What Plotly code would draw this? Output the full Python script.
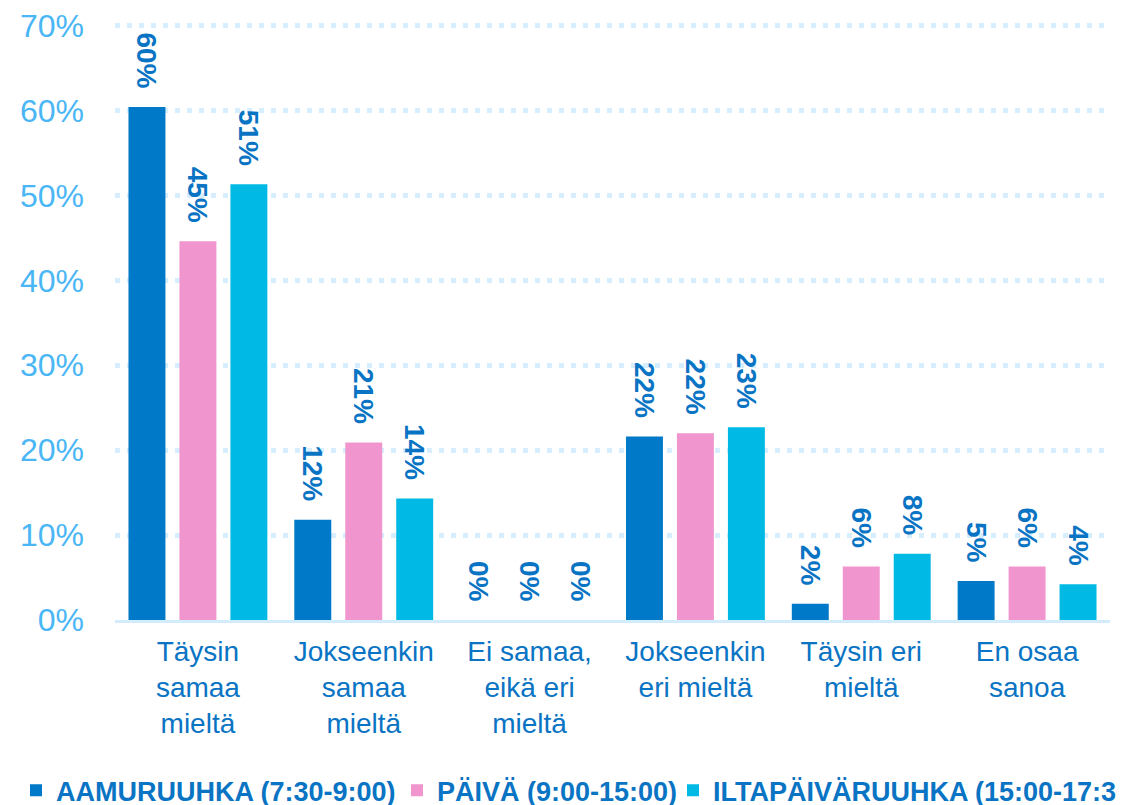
import plotly.graph_objects as go

categories = ["Täysin<br>samaa<br>mieltä", "Jokseenkin<br>samaa<br>mieltä", "Ei samaa,<br>eikä eri<br>mieltä",
              "Jokseenkin<br>eri mieltä", "Täysin eri<br>mieltä", "En osaa<br>sanoa"]
series_names = ["AAMURUUHKA (7:30-9:00)", "PÄIVÄ (9:00-15:00)", "ILTAPÄIVÄRUUHKA (15:00-17:30)"]
aamu = [60.4, 11.8, 0, 21.6, 1.9, 4.6]
paiva = [44.6, 20.9, 0, 22.0, 6.3, 6.3]
ilta = [51.3, 14.3, 0, 22.7, 7.8, 4.2]
colors = ["#0079C8", "#F095CD", "#00B9E4"]
tick_vals = [0, 10, 20, 30, 40, 50, 60, 70]
tick_text = ["0%", "10%", "20%", "30%", "40%", "50%", "60%", "70%"]

FONT = "Arial, Liberation Sans, sans-serif"
label_color = "#0A74C4"
legend_widths = [336, 231, 400]

fig = go.Figure()
for name, vals, col, lw in zip(series_names, [aamu, paiva, ilta], colors, legend_widths):
    fig.add_trace(go.Bar(
        x=categories, y=vals, name=name,
        marker=dict(color=col, line=dict(width=0)),
        texttemplate="%{y:.0f}%\u00a0\u00a0",
        textposition="outside", textangle=90,
        constraintext="none",
        textfont=dict(family=FONT, size=28, color=label_color, weight="bold"),
        cliponaxis=False,
        legendwidth=lw,
    ))

fig.update_layout(
    width=1125, height=805,
    margin=dict(l=107, r=23, t=14.5, b=193, autoexpand=False),
    paper_bgcolor="white", plot_bgcolor="white",
    barmode="group", bargap=0.078, bargroupgap=0.275,
    font=dict(family=FONT),
    showlegend=True,
    legend=dict(orientation="h", x=-0.0995, xanchor="left",
                y=-0.286, yanchor="middle", bgcolor="rgba(0,0,0,0)",
                font=dict(family=FONT, size=27, color=label_color, weight="bold"),
                itemclick=False, tracegroupgap=0),
)
fig.update_xaxes(
    automargin=False,
    showgrid=False, showline=True, linecolor="#D3ECFC", linewidth=3,
    tickfont=dict(family=FONT, size=28, color=label_color),
    ticks="", ticklabelstandoff=4,
)
fig.update_yaxes(
    automargin=False,
    range=[0, 70.3], tickvals=tick_vals, ticktext=tick_text,
    showgrid=True, gridcolor="#D6EEFD", gridwidth=5, griddash="5px,7px",
    zeroline=False, showline=False, ticklabeloverflow="allow",
    tickfont=dict(family=FONT, size=32, color="#4AB6F5"),
    ticks="", ticklabelstandoff=30,
)

fig.write_html("out.html")
